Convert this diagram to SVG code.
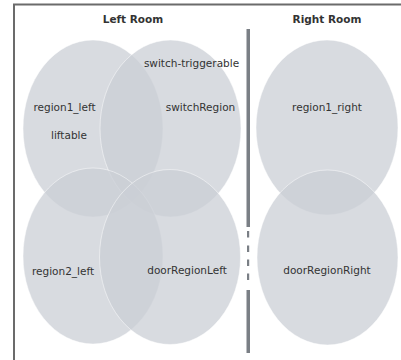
<svg xmlns="http://www.w3.org/2000/svg" width="401" height="360" viewBox="0 0 401 360">
<style>
.region{fill:#cbcfd6;fill-opacity:0.75;stroke:#ffffff;stroke-opacity:0.6;stroke-width:0.8}
.lbl{font-family:"DejaVu Sans",Verdana,sans-serif;font-size:10.5px;fill:#333333;text-anchor:middle}
.title{font-family:"DejaVu Sans",Verdana,sans-serif;font-size:10.5px;font-weight:bold;fill:#333333;text-anchor:middle}
.wall{fill:#7a7f85}
</style>
<rect x="0" y="0" width="401" height="360" fill="#ffffff"/>
<path d="M14 362 L14 4.5 L403 4.5" fill="none" stroke="#6b6b6b" stroke-width="2"/>
<text class="title" x="133" y="23">Left Room</text>
<text class="title" x="327" y="23">Right Room</text>
<g id="walls">
<rect class="wall" x="246.5" y="29" width="3.5" height="198"/>
<rect class="wall" x="247" y="231" width="2.2" height="6.5"/>
<rect class="wall" x="247" y="245.5" width="2.2" height="6.5"/>
<rect class="wall" x="247" y="259.5" width="2.2" height="6.5"/>
<rect class="wall" x="247" y="273.5" width="2.2" height="6.5"/>
<rect class="wall" x="246.5" y="290" width="3.5" height="63"/>
</g>
<g id="region1_left"><ellipse class="region" cx="93" cy="128.5" rx="70" ry="88.5"/></g>
<g id="switchRegion"><ellipse class="region" cx="170.5" cy="128.5" rx="70.5" ry="88.5"/></g>
<g id="region2_left"><ellipse class="region" cx="93" cy="256" rx="70" ry="88"/></g>
<g id="doorRegionLeft"><ellipse class="region" cx="170" cy="257" rx="70.5" ry="87.5"/></g>
<g id="region1_right"><ellipse class="region" cx="327" cy="127.5" rx="71" ry="87.5"/></g>
<g id="doorRegionRight"><ellipse class="region" cx="327.5" cy="257.5" rx="70.5" ry="87.5"/></g>
<g id="labels">
<text class="lbl" x="64.5" y="111">region1_left</text>
<text class="lbl" x="69" y="139">liftable</text>
<text class="lbl" x="191.5" y="67">switch-triggerable</text>
<text class="lbl" x="200.5" y="111">switchRegion</text>
<text class="lbl" x="327" y="111">region1_right</text>
<text class="lbl" x="63" y="275">region2_left</text>
<text class="lbl" x="187" y="274">doorRegionLeft</text>
<text class="lbl" x="327" y="274">doorRegionRight</text>
</g>
</svg>
